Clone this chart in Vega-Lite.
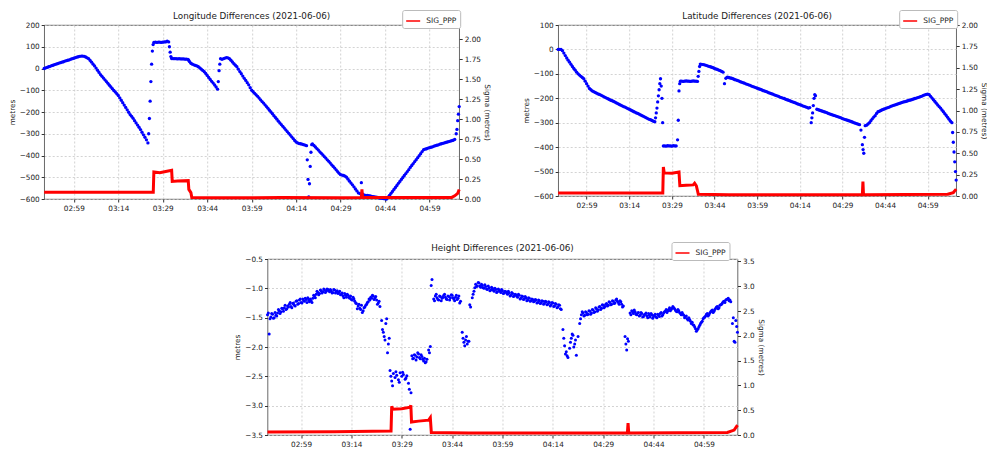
{
"$schema":"https://vega.github.io/schema/vega-lite/v6.json",
"background":"white",
"padding":{"left":7,"top":9,"right":1,"bottom":0},
"data":{"format":{"parse":{"t":"utc:'%H:%M:%S'"}},"values":[
{"t":"02:49:00","lo":0,"la":0,"h":-1.45},{"t":"02:49:30","lo":3,"la":0,"h":-1.78},{"t":"02:50:00","lo":5,"la":0,"h":-1.49},{"t":"02:50:30","lo":8,"la":-5,"h":-1.44},{"t":"02:51:00","lo":10,"la":-15,"h":-1.5},{"t":"02:51:30","lo":13,"la":-25,"h":-1.46},{"t":"02:52:00","lo":15,"la":-35,"h":-1.42},{"t":"02:52:30","lo":18,"la":-44,"h":-1.38},{"t":"02:53:00","lo":20,"la":-52,"h":-1.4},{"t":"02:53:30","lo":22,"la":-61,"h":-1.35},{"t":"02:54:00","lo":25,"la":-70,"h":-1.33},{"t":"02:54:30","lo":27,"la":-78,"h":-1.36},{"t":"02:55:00","lo":29,"la":-85,"h":-1.3},{"t":"02:55:30","lo":31,"la":-93,"h":-1.27},{"t":"02:56:00","lo":34,"la":-100,"h":-1.31},{"t":"02:56:30","lo":36,"la":-105,"h":-1.26},{"t":"02:57:00","lo":38,"la":-110,"h":-1.29},{"t":"02:57:30","lo":40,"la":-115,"h":-1.22},{"t":"02:58:00","lo":43,"la":-120,"h":-1.27},{"t":"02:58:30","lo":45,"la":-130,"h":-1.2},{"t":"02:59:00","lo":47,"la":-140,"h":-1.24},{"t":"02:59:30","lo":50,"la":-150,"h":-1.18},
{"t":"03:00:00","lo":52,"la":-160,"h":-1.22},{"t":"03:00:30","lo":54,"la":-165,"h":-1.19},{"t":"03:01:00","lo":56,"la":-170,"h":-1.16},{"t":"03:01:30","lo":57,"la":-173,"h":-1.23},{"t":"03:02:00","lo":57,"la":-176,"h":-1.21},{"t":"03:02:30","lo":56,"la":-179,"h":-1.17},{"t":"03:03:00","lo":53,"la":-182,"h":-1.13},{"t":"03:03:30","lo":49,"la":-184,"h":-1.1},{"t":"03:04:00","lo":45,"la":-187,"h":-1.07},{"t":"03:04:30","lo":37,"la":-190,"h":-1.09},{"t":"03:05:00","lo":29,"la":-193,"h":-1.04},{"t":"03:05:30","lo":20,"la":-196,"h":-1.06},{"t":"03:06:00","lo":12,"la":-199,"h":-1.03},{"t":"03:06:30","lo":2,"la":-202,"h":-1.05},{"t":"03:07:00","lo":-8,"la":-205,"h":-1.02},{"t":"03:07:30","lo":-18,"la":-208,"h":-1.06},{"t":"03:08:00","lo":-28,"la":-210,"h":-1.04},{"t":"03:08:30","lo":-36,"la":-213,"h":-1.07},{"t":"03:09:00","lo":-44,"la":-216,"h":-1.03},{"t":"03:09:30","lo":-52,"la":-219,"h":-1.06},{"t":"03:10:00","lo":-60,"la":-222,"h":-1.09},{"t":"03:10:30","lo":-68,"la":-225,"h":-1.05},{"t":"03:11:00","lo":-77,"la":-228,"h":-1.1},{"t":"03:11:30","lo":-85,"la":-231,"h":-1.13},{"t":"03:12:00","lo":-93,"la":-234,"h":-1.09},{"t":"03:12:30","lo":-101,"la":-236,"h":-1.15},{"t":"03:13:00","lo":-108,"la":-239,"h":-1.12},{"t":"03:13:30","lo":-116,"la":-242,"h":-1.17},{"t":"03:14:00","lo":-124,"la":-245,"h":-1.19},{"t":"03:14:30","lo":-135,"la":-248,"h":-1.15},{"t":"03:15:00","lo":-146,"la":-251,"h":-1.22},{"t":"03:15:30","lo":-157,"la":-254,"h":-1.26},{"t":"03:16:00","lo":-168,"la":-257,"h":-1.3},{"t":"03:16:30","lo":-179,"la":-260,"h":-1.34},{"t":"03:17:00","lo":-190,"la":-262,"h":-1.29},{"t":"03:17:30","lo":-201,"la":-265,"h":-1.38},{"t":"03:18:00","lo":-212,"la":-268,"h":-1.32},{"t":"03:18:30","lo":-220,"la":-271,"h":-1.27},{"t":"03:19:00","lo":-229,"la":-274,"h":-1.23},{"t":"03:19:30","lo":-240,"la":-277,"h":-1.2},{"t":"03:20:00","lo":-250,"la":-280,"h":-1.17},{"t":"03:20:30","lo":-260,"la":-283,"h":-1.13},{"t":"03:21:00","lo":-270,"la":-286,"h":-1.16},{"t":"03:21:30","lo":-281,"la":-288,"h":-1.2},{"t":"03:22:00","lo":-293,"la":-291,"h":-1.25},{"t":"03:22:30","lo":-305,"la":-294,"h":-1.31},{"t":"03:23:00","lo":-316,"la":-296,"h":-1.55},{"t":"03:23:15","la":-280,"h":-1.7},{"t":"03:23:30","lo":-328,"la":-260,"h":-1.75},{"t":"03:23:45","la":-240,"h":-1.82},{"t":"03:24:00","lo":-342,"la":-215,"h":-1.88},{"t":"03:24:15","lo":-300,"la":-190,"h":-1.6},{"t":"03:24:30","lo":-230,"la":-165,"h":-1.52},{"t":"03:24:45","lo":-150,"la":-140,"h":-2.1},{"t":"03:25:00","lo":-60,"la":-120,"h":-1.95},{"t":"03:25:15","lo":20,"la":-150,"h":-1.85},{"t":"03:25:30","lo":80,"la":-200,"h":-2.4},{"t":"03:25:45","lo":110,"la":-300,"h":-2.5},{"t":"03:26:00","lo":120,"la":-395,"h":-2.58},{"t":"03:26:15","h":-2.66},{"t":"03:26:30","lo":121,"la":-395,"h":-2.45},{"t":"03:27:00","lo":120,"la":-396,"h":-2.52},{"t":"03:27:15","h":-2.42},{"t":"03:27:30","lo":121,"la":-394,"h":-2.48},{"t":"03:28:00","lo":121,"la":-395,"h":-2.56},{"t":"03:28:15","h":-2.6},{"t":"03:28:30","lo":120,"la":-395,"h":-2.44},{"t":"03:29:00","lo":121,"la":-396,"h":-2.5},{"t":"03:29:15","h":-2.43},{"t":"03:29:30","lo":122,"la":-394,"h":-2.47},{"t":"03:30:00","lo":122,"la":-395,"h":-2.55},{"t":"03:30:15","h":-2.53},{"t":"03:30:30","lo":126,"la":-395,"h":-2.49},{"t":"03:31:00","lo":122,"la":-370,"h":-2.62},{"t":"03:31:15","lo":100,"la":-290,"h":-2.72},{"t":"03:31:30","lo":75,"la":-170,"h":-3.4},{"t":"03:31:45","lo":55,"la":-140,"h":-2.78},{"t":"03:32:00","lo":46,"la":-130,"h":-2.15},{"t":"03:32:15","h":-2.2},{"t":"03:32:30","lo":45,"la":-130,"h":-2.19},{"t":"03:33:00","lo":45,"la":-131,"h":-2.14},{"t":"03:33:30","lo":45,"la":-130,"h":-2.17},{"t":"03:34:00","lo":44,"la":-129,"h":-2.12},{"t":"03:34:30","lo":45,"la":-130,"h":-2.2},{"t":"03:35:00","lo":44,"la":-130,"h":-2.16},{"t":"03:35:30","lo":44,"la":-131,"h":-2.24},{"t":"03:36:00","lo":44,"la":-130,"h":-2.27},{"t":"03:36:30","lo":43,"la":-129,"h":-2.21},{"t":"03:37:00","lo":43,"la":-130,"h":-2.05},{"t":"03:37:15","h":-2.1},{"t":"03:37:30","lo":42,"la":-130,"h":-1.99},{"t":"03:37:45","lo":38,"h":-0.95},{"t":"03:38:00","lo":32,"la":-131,"h":-0.85},{"t":"03:38:15","la":-110},{"t":"03:38:30","lo":24,"la":-90,"h":-1.18},{"t":"03:38:45","la":-70},{"t":"03:39:00","lo":20,"la":-60,"h":-1.13},{"t":"03:39:30","lo":17,"la":-61,"h":-1.16},{"t":"03:40:00","lo":14,"la":-62,"h":-1.2},{"t":"03:40:30","lo":12,"la":-63,"h":-1.14},{"t":"03:41:00","lo":8,"la":-65,"h":-1.17},{"t":"03:41:30","lo":3,"la":-67,"h":-1.12},{"t":"03:42:00","lo":-3,"la":-69,"h":-1.15},{"t":"03:42:30","lo":-9,"la":-71,"h":-1.19},{"t":"03:43:00","lo":-15,"la":-73,"h":-1.14},{"t":"03:43:30","lo":-23,"la":-75,"h":-1.16},{"t":"03:44:00","lo":-32,"la":-78,"h":-1.12},{"t":"03:44:30","lo":-41,"la":-80,"h":-1.18},{"t":"03:45:00","lo":-50,"la":-82,"h":-1.15},{"t":"03:45:30","lo":-59,"la":-85,"h":-1.19},{"t":"03:46:00","lo":-67,"la":-87,"h":-1.13},{"t":"03:46:30","lo":-76,"la":-90,"h":-1.22},{"t":"03:47:00","lo":-85,"la":-93,"h":-1.75},{"t":"03:47:15","h":-1.85},{"t":"03:47:30","lo":-95,"la":-140,"h":-1.92},{"t":"03:47:45","lo":-60,"h":-1.98},{"t":"03:48:00","lo":-10,"la":-118,"h":-1.88},{"t":"03:48:15","lo":20,"h":-1.82},{"t":"03:48:30","lo":45,"la":-114,"h":-1.95},{"t":"03:48:45","h":-1.9},{"t":"03:49:00","lo":42,"la":-115,"h":-1.9},{"t":"03:49:15","h":-1.28},{"t":"03:49:30","lo":45,"la":-117,"h":-1.32},{"t":"03:50:00","lo":48,"la":-118,"h":-1.16},{"t":"03:50:30","lo":50,"la":-120,"h":-1.05},{"t":"03:51:00","lo":49,"la":-123,"h":-0.93},{"t":"03:51:30","lo":45,"la":-125,"h":-0.96},{"t":"03:52:00","lo":38,"la":-127,"h":-0.91},{"t":"03:52:30","lo":30,"la":-129,"h":-0.98},{"t":"03:53:00","lo":22,"la":-132,"h":-0.95},{"t":"03:53:30","lo":15,"la":-134,"h":-1.0},{"t":"03:54:00","lo":8,"la":-136,"h":-0.97},{"t":"03:54:30","lo":-3,"la":-138,"h":-1.02},{"t":"03:55:00","lo":-14,"la":-141,"h":-0.99},{"t":"03:55:30","lo":-24,"la":-143,"h":-1.03},{"t":"03:56:00","lo":-35,"la":-145,"h":-1.0},{"t":"03:56:30","lo":-45,"la":-147,"h":-1.05},{"t":"03:57:00","lo":-55,"la":-150,"h":-1.02},{"t":"03:57:30","lo":-65,"la":-152,"h":-1.06},{"t":"03:58:00","lo":-75,"la":-154,"h":-1.03},{"t":"03:58:30","lo":-88,"la":-156,"h":-1.07},{"t":"03:59:00","lo":-100,"la":-159,"h":-1.04},{"t":"03:59:30","lo":-107,"la":-161,"h":-1.08},
{"t":"04:00:00","lo":-114,"la":-163,"h":-1.06},{"t":"04:00:30","lo":-121,"la":-165,"h":-1.1},{"t":"04:01:00","lo":-128,"la":-168,"h":-1.08},{"t":"04:01:30","lo":-136,"la":-170,"h":-1.12},{"t":"04:02:00","lo":-144,"la":-172,"h":-1.09},{"t":"04:02:30","lo":-152,"la":-174,"h":-1.13},{"t":"04:03:00","lo":-159,"la":-177,"h":-1.11},{"t":"04:03:30","lo":-167,"la":-179,"h":-1.15},{"t":"04:04:00","lo":-175,"la":-181,"h":-1.12},{"t":"04:04:30","lo":-183,"la":-183,"h":-1.17},{"t":"04:05:00","lo":-192,"la":-186,"h":-1.14},{"t":"04:05:30","lo":-200,"la":-188,"h":-1.18},{"t":"04:06:00","lo":-208,"la":-190,"h":-1.16},{"t":"04:06:30","lo":-217,"la":-192,"h":-1.2},{"t":"04:07:00","lo":-225,"la":-195,"h":-1.17},{"t":"04:07:30","lo":-233,"la":-197,"h":-1.21},{"t":"04:08:00","lo":-242,"la":-199,"h":-1.19},{"t":"04:08:30","lo":-250,"la":-201,"h":-1.22},{"t":"04:09:00","lo":-258,"la":-204,"h":-1.2},{"t":"04:09:30","lo":-266,"la":-206,"h":-1.24},{"t":"04:10:00","lo":-274,"la":-208,"h":-1.21},{"t":"04:10:30","lo":-282,"la":-210,"h":-1.25},{"t":"04:11:00","lo":-290,"la":-213,"h":-1.22},{"t":"04:11:30","lo":-298,"la":-215,"h":-1.26},{"t":"04:12:00","lo":-306,"la":-217,"h":-1.23},{"t":"04:12:30","lo":-314,"la":-219,"h":-1.27},{"t":"04:13:00","lo":-322,"la":-222,"h":-1.24},{"t":"04:13:30","lo":-331,"la":-224,"h":-1.28},{"t":"04:14:00","lo":-338,"la":-226,"h":-1.25},{"t":"04:14:30","lo":-342,"la":-228,"h":-1.3},{"t":"04:15:00","lo":-345,"la":-231,"h":-1.27},{"t":"04:15:30","lo":-346,"la":-233,"h":-1.32},{"t":"04:16:00","lo":-348,"la":-235,"h":-1.29},{"t":"04:16:30","lo":-350,"la":-237,"h":-1.36},{"t":"04:17:00","lo":-352,"la":-240,"h":-1.7},{"t":"04:17:15","h":-1.85},{"t":"04:17:30","lo":-355,"la":-238,"h":-1.98},{"t":"04:17:45","lo":-420,"h":-2.12},{"t":"04:18:00","lo":-510,"la":-300,"h":-2.08},{"t":"04:18:15","lo":-590,"la":-280,"h":-2.15},{"t":"04:18:30","lo":-530,"la":-260,"h":-2.18},{"t":"04:18:45","lo":-450,"la":-230},{"t":"04:19:00","lo":-385,"la":-200,"h":-2.02},{"t":"04:19:15","lo":-350,"la":-185,"h":-1.92},{"t":"04:19:30","lo":-347,"la":-190,"h":-1.85},{"t":"04:19:45","h":-1.78},{"t":"04:20:00","lo":-354,"la":-245,"h":-1.8},{"t":"04:20:15","h":-2.0},{"t":"04:20:30","lo":-361,"la":-247,"h":-1.95},{"t":"04:20:45","h":-1.88},{"t":"04:21:00","lo":-368,"la":-249,"h":-2.14},{"t":"04:21:30","lo":-375,"la":-251,"h":-1.82},{"t":"04:22:00","lo":-383,"la":-253,"h":-1.6},{"t":"04:22:30","lo":-390,"la":-255,"h":-1.45},{"t":"04:23:00","lo":-397,"la":-257,"h":-1.42},{"t":"04:23:30","lo":-405,"la":-259,"h":-1.46},{"t":"04:24:00","lo":-412,"la":-262,"h":-1.41},{"t":"04:24:30","lo":-420,"la":-264,"h":-1.44},{"t":"04:25:00","lo":-427,"la":-266,"h":-1.39},{"t":"04:25:30","lo":-435,"la":-268,"h":-1.42},{"t":"04:26:00","lo":-443,"la":-270,"h":-1.37},{"t":"04:26:30","lo":-450,"la":-272,"h":-1.4},{"t":"04:27:00","lo":-458,"la":-274,"h":-1.35},{"t":"04:27:30","lo":-466,"la":-276,"h":-1.37},{"t":"04:28:00","lo":-474,"la":-278,"h":-1.31},{"t":"04:28:30","lo":-482,"la":-280,"h":-1.34},{"t":"04:29:00","lo":-488,"la":-283,"h":-1.29},{"t":"04:29:30","lo":-490,"la":-285,"h":-1.31},{"t":"04:30:00","lo":-492,"la":-287,"h":-1.26},{"t":"04:30:30","lo":-495,"la":-289,"h":-1.29},{"t":"04:31:00","lo":-500,"la":-291,"h":-1.24},{"t":"04:31:30","lo":-509,"la":-293,"h":-1.27},{"t":"04:32:00","lo":-518,"la":-295,"h":-1.22},{"t":"04:32:30","lo":-527,"la":-297,"h":-1.25},{"t":"04:33:00","lo":-535,"la":-300,"h":-1.18},{"t":"04:33:30","lo":-544,"la":-302,"h":-1.24},{"t":"04:34:00","lo":-554,"la":-304,"h":-1.21},{"t":"04:34:30","lo":-563,"la":-306,"h":-1.27},{"t":"04:35:00","lo":-572,"la":-308,"h":-1.3},{"t":"04:35:30","lo":-575,"la":-330,"h":-1.82},{"t":"04:35:45","h":-1.95},{"t":"04:36:00","lo":-525,"la":-390,"h":-2.05},{"t":"04:36:15","la":-410,"h":-1.86},{"t":"04:36:30","lo":-578,"la":-425,"h":-1.9},{"t":"04:36:45","la":-360},{"t":"04:37:00","lo":-582,"la":-312,"h":-1.42},{"t":"04:37:30","lo":-583,"la":-310,"h":-1.38},{"t":"04:38:00","lo":-584,"la":-305,"h":-1.43},{"t":"04:38:30","lo":-585,"la":-300,"h":-1.4},{"t":"04:39:00","lo":-586,"la":-292,"h":-1.45},{"t":"04:39:30","lo":-588,"la":-284,"h":-1.41},{"t":"04:40:00","lo":-589,"la":-277,"h":-1.46},{"t":"04:40:30","lo":-590,"la":-271,"h":-1.43},{"t":"04:41:00","lo":-592,"la":-262,"h":-1.48},{"t":"04:41:30","lo":-593,"la":-255,"h":-1.44},{"t":"04:42:00","lo":-595,"la":-253,"h":-1.47},{"t":"04:42:30","lo":-596,"la":-250,"h":-1.43},{"t":"04:43:00","lo":-597,"la":-247,"h":-1.49},{"t":"04:43:30","lo":-598,"la":-245,"h":-1.45},{"t":"04:44:00","lo":-599,"la":-242,"h":-1.48},{"t":"04:44:30","lo":-600,"la":-240,"h":-1.44},{"t":"04:45:00","lo":-592,"la":-238,"h":-1.5},{"t":"04:45:30","lo":-583,"la":-236,"h":-1.46},{"t":"04:46:00","lo":-574,"la":-233,"h":-1.43},{"t":"04:46:30","lo":-565,"la":-231,"h":-1.47},{"t":"04:47:00","lo":-556,"la":-229,"h":-1.42},{"t":"04:47:30","lo":-547,"la":-227,"h":-1.39},{"t":"04:48:00","lo":-538,"la":-225,"h":-1.41},{"t":"04:48:30","lo":-528,"la":-223,"h":-1.36},{"t":"04:49:00","lo":-519,"la":-221,"h":-1.38},{"t":"04:49:30","lo":-510,"la":-219,"h":-1.34},{"t":"04:50:00","lo":-501,"la":-217,"h":-1.33},{"t":"04:50:30","lo":-492,"la":-215,"h":-1.37},{"t":"04:51:00","lo":-483,"la":-214,"h":-1.4},{"t":"04:51:30","lo":-474,"la":-212,"h":-1.38},{"t":"04:52:00","lo":-465,"la":-210,"h":-1.43},{"t":"04:52:30","lo":-455,"la":-208,"h":-1.41},{"t":"04:53:00","lo":-446,"la":-207,"h":-1.46},{"t":"04:53:30","lo":-437,"la":-205,"h":-1.48},{"t":"04:54:00","lo":-428,"la":-203,"h":-1.52},{"t":"04:54:30","lo":-419,"la":-201,"h":-1.5},{"t":"04:55:00","lo":-410,"la":-199,"h":-1.56},{"t":"04:55:30","lo":-401,"la":-197,"h":-1.58},{"t":"04:56:00","lo":-392,"la":-195,"h":-1.63},{"t":"04:56:30","lo":-382,"la":-193,"h":-1.69},{"t":"04:57:00","lo":-373,"la":-191,"h":-1.71},{"t":"04:57:30","lo":-371,"la":-188,"h":-1.66},{"t":"04:58:00","lo":-369,"la":-186,"h":-1.6},{"t":"04:58:30","lo":-366,"la":-184,"h":-1.56},{"t":"04:59:00","lo":-364,"la":-183,"h":-1.5},{"t":"04:59:30","lo":-362,"la":-185,"h":-1.47},
{"t":"05:00:00","lo":-360,"la":-192,"h":-1.43},{"t":"05:00:30","lo":-357,"la":-199,"h":-1.45},{"t":"05:01:00","lo":-355,"la":-206,"h":-1.4},{"t":"05:01:30","lo":-353,"la":-213,"h":-1.37},{"t":"05:02:00","lo":-351,"la":-220,"h":-1.39},{"t":"05:02:30","lo":-348,"la":-227,"h":-1.34},{"t":"05:03:00","lo":-346,"la":-234,"h":-1.31},{"t":"05:03:30","lo":-344,"la":-240,"h":-1.33},{"t":"05:04:00","lo":-342,"la":-248,"h":-1.28},{"t":"05:04:30","lo":-340,"la":-255,"h":-1.25},{"t":"05:05:00","lo":-338,"la":-263,"h":-1.22},{"t":"05:05:30","lo":-336,"la":-270,"h":-1.2},{"t":"05:06:00","lo":-334,"la":-278,"h":-1.18},{"t":"05:06:30","lo":-332,"la":-286,"h":-1.21},{"t":"05:07:00","lo":-330,"la":-294,"h":-1.23},{"t":"05:07:30","lo":-326,"la":-300,"h":-1.6},{"t":"05:07:45","la":-340,"h":-1.5},{"t":"05:08:00","lo":-300,"la":-380,"h":-1.9},{"t":"05:08:15","lo":-280,"la":-420,"h":-1.92},{"t":"05:08:30","lo":-240,"la":-460,"h":-1.55},{"t":"05:08:45","lo":-210,"la":-500,"h":-1.65},{"t":"05:09:00","lo":-175,"la":-535,"h":-1.75},
{"t":"02:49:15","h":-1.42},{"t":"02:49:45","h":-1.52},{"t":"02:50:15","h":-1.43},{"t":"02:50:45","h":-1.51},{"t":"02:51:15","h":-1.41},{"t":"02:51:45","h":-1.47},{"t":"02:52:15","h":-1.36},{"t":"02:52:45","h":-1.43},{"t":"02:53:15","h":-1.34},{"t":"02:53:45","h":-1.39},{"t":"02:54:15","h":-1.29},{"t":"02:54:45","h":-1.35},{"t":"02:55:15","h":-1.32},{"t":"02:55:45","h":-1.24},{"t":"02:56:15","h":-1.33},{"t":"02:56:45","h":-1.25},{"t":"02:57:15","h":-1.3},{"t":"02:57:45","h":-1.21},{"t":"02:58:15","h":-1.26},{"t":"02:58:45","h":-1.18},{"t":"02:59:15","h":-1.25},{"t":"02:59:45","h":-1.21},{"t":"03:00:15","h":-1.17},{"t":"03:00:45","h":-1.24},{"t":"03:01:15","h":-1.2},{"t":"03:01:45","h":-1.18},{"t":"03:02:15","h":-1.24},{"t":"03:02:45","h":-1.12},{"t":"03:03:15","h":-1.16},{"t":"03:03:45","h":-1.05},{"t":"03:04:15","h":-1.11},{"t":"03:04:45","h":-1.03},{"t":"03:05:15","h":-1.08},{"t":"03:05:45","h":-1.01},{"t":"03:06:15","h":-1.07},{"t":"03:06:45","h":-1.01},{"t":"03:07:15","h":-1.04},{"t":"03:07:45","h":-1.02},{"t":"03:08:15","h":-1.08},{"t":"03:08:45","h":-1.02},{"t":"03:09:15","h":-1.08},{"t":"03:09:45","h":-1.04},{"t":"03:10:15","h":-1.07},{"t":"03:10:45","h":-1.11},{"t":"03:11:15","h":-1.08},{"t":"03:11:45","h":-1.16},{"t":"03:12:15","h":-1.12},{"t":"03:12:45","h":-1.1},{"t":"03:13:15","h":-1.15},{"t":"03:13:45","h":-1.13},{"t":"03:14:15","h":-1.2},{"t":"03:14:45","h":-1.18},{"t":"03:15:15","h":-1.25},{"t":"03:15:45","h":-1.35},{"t":"03:16:15","h":-1.27},{"t":"03:16:45","h":-1.36},{"t":"03:17:15","h":-1.41},{"t":"03:17:45","h":-1.33},{"t":"03:18:15","h":-1.29},{"t":"03:18:45","h":-1.24},{"t":"03:19:15","h":-1.18},{"t":"03:19:45","h":-1.15},{"t":"03:20:15","h":-1.12},{"t":"03:20:45","h":-1.19},{"t":"03:21:15","h":-1.14},{"t":"03:21:45","h":-1.27},{"t":"03:22:15","h":-1.22},
{"t":"03:32:45","h":-2.13},{"t":"03:33:15","h":-2.22},{"t":"03:33:45","h":-2.1},{"t":"03:34:15","h":-2.18},{"t":"03:34:45","h":-2.13},{"t":"03:35:15","h":-2.21},{"t":"03:35:45","h":-2.19},{"t":"03:36:15","h":-2.25},
{"t":"03:38:45","h":-1.21},{"t":"03:39:15","h":-1.1},{"t":"03:39:45","h":-1.19},{"t":"03:40:15","h":-1.13},{"t":"03:40:45","h":-1.21},{"t":"03:41:15","h":-1.15},{"t":"03:41:45","h":-1.1},{"t":"03:42:15","h":-1.18},{"t":"03:42:45","h":-1.13},{"t":"03:43:15","h":-1.2},{"t":"03:43:45","h":-1.11},{"t":"03:44:15","h":-1.16},{"t":"03:44:45","h":-1.21},{"t":"03:45:15","h":-1.12},{"t":"03:45:45","h":-1.17},{"t":"03:46:15","h":-1.25},
{"t":"03:50:15","h":-1.1},{"t":"03:50:45","h":-0.99},{"t":"03:51:15","h":-0.97},{"t":"03:51:45","h":-0.9},{"t":"03:52:15","h":-0.96},{"t":"03:52:45","h":-0.93},{"t":"03:53:15","h":-0.99},{"t":"03:53:45","h":-0.94},{"t":"03:54:15","h":-1.01},{"t":"03:54:45","h":-0.96},{"t":"03:55:15","h":-1.04},{"t":"03:55:45","h":-0.98},{"t":"03:56:15","h":-1.03},{"t":"03:56:45","h":-1.0},{"t":"03:57:15","h":-1.07},{"t":"03:57:45","h":-1.01},{"t":"03:58:15","h":-1.05},{"t":"03:58:45","h":-1.02},{"t":"03:59:15","h":-1.09},{"t":"03:59:45","h":-1.05},{"t":"04:00:15","h":-1.08},{"t":"04:00:45","h":-1.05},{"t":"04:01:15","h":-1.13},{"t":"04:01:45","h":-1.07},{"t":"04:02:15","h":-1.14},{"t":"04:02:45","h":-1.1},{"t":"04:03:15","h":-1.13},{"t":"04:03:45","h":-1.1},{"t":"04:04:15","h":-1.18},{"t":"04:04:45","h":-1.13},{"t":"04:05:15","h":-1.19},{"t":"04:05:45","h":-1.14},{"t":"04:06:15","h":-1.21},{"t":"04:06:45","h":-1.16},{"t":"04:07:15","h":-1.22},{"t":"04:07:45","h":-1.18},{"t":"04:08:15","h":-1.23},{"t":"04:08:45","h":-1.19},{"t":"04:09:15","h":-1.25},{"t":"04:09:45","h":-1.2},{"t":"04:10:15","h":-1.26},{"t":"04:10:45","h":-1.21},{"t":"04:11:15","h":-1.27},{"t":"04:11:45","h":-1.22},{"t":"04:12:15","h":-1.28},{"t":"04:12:45","h":-1.23},{"t":"04:13:15","h":-1.3},{"t":"04:13:45","h":-1.24},{"t":"04:14:15","h":-1.31},{"t":"04:14:45","h":-1.26},{"t":"04:15:15","h":-1.33},{"t":"04:15:45","h":-1.28},{"t":"04:16:15","h":-1.35},
{"t":"04:22:15","h":-1.52},{"t":"04:22:45","h":-1.4},{"t":"04:23:15","h":-1.47},{"t":"04:23:45","h":-1.4},{"t":"04:24:15","h":-1.45},{"t":"04:24:45","h":-1.38},{"t":"04:25:15","h":-1.44},{"t":"04:25:45","h":-1.36},{"t":"04:26:15","h":-1.41},{"t":"04:26:45","h":-1.33},{"t":"04:27:15","h":-1.39},{"t":"04:27:45","h":-1.32},{"t":"04:28:15","h":-1.36},{"t":"04:28:45","h":-1.28},{"t":"04:29:15","h":-1.33},{"t":"04:29:45","h":-1.27},{"t":"04:30:15","h":-1.3},{"t":"04:30:45","h":-1.23},{"t":"04:31:15","h":-1.28},{"t":"04:31:45","h":-1.21},{"t":"04:32:15","h":-1.26},{"t":"04:32:45","h":-1.2},{"t":"04:33:15","h":-1.22},{"t":"04:33:45","h":-1.27},{"t":"04:34:15","h":-1.23},{"t":"04:34:45","h":-1.32},
{"t":"04:37:15","h":-1.45},{"t":"04:37:45","h":-1.4},{"t":"04:38:15","h":-1.37},{"t":"04:38:45","h":-1.44},{"t":"04:39:15","h":-1.42},{"t":"04:39:45","h":-1.47},{"t":"04:40:15","h":-1.41},{"t":"04:40:45","h":-1.49},{"t":"04:41:15","h":-1.45},{"t":"04:41:45","h":-1.42},{"t":"04:42:15","h":-1.5},{"t":"04:42:45","h":-1.46},{"t":"04:43:15","h":-1.43},{"t":"04:43:45","h":-1.51},{"t":"04:44:15","h":-1.46},{"t":"04:44:45","h":-1.49},{"t":"04:45:15","h":-1.44},{"t":"04:45:45","h":-1.48},{"t":"04:46:15","h":-1.41},{"t":"04:46:45","h":-1.45},{"t":"04:47:15","h":-1.4},{"t":"04:47:45","h":-1.36},{"t":"04:48:15","h":-1.38},{"t":"04:48:45","h":-1.33},{"t":"04:49:15","h":-1.36},{"t":"04:49:45","h":-1.31},{"t":"04:50:15","h":-1.35},{"t":"04:50:45","h":-1.39},{"t":"04:51:15","h":-1.36},{"t":"04:51:45","h":-1.41},{"t":"04:52:15","h":-1.45},{"t":"04:52:45","h":-1.44},{"t":"04:53:15","h":-1.5},{"t":"04:53:45","h":-1.47},{"t":"04:54:15","h":-1.54},{"t":"04:54:45","h":-1.53},{"t":"04:55:15","h":-1.6},{"t":"04:55:45","h":-1.62},{"t":"04:56:15","h":-1.66},{"t":"04:56:45","h":-1.73},{"t":"04:57:15","h":-1.69},{"t":"04:57:45","h":-1.63},{"t":"04:58:15","h":-1.58},{"t":"04:58:45","h":-1.52},{"t":"04:59:15","h":-1.49},{"t":"04:59:45","h":-1.44},{"t":"05:00:15","h":-1.47},{"t":"05:00:45","h":-1.42},{"t":"05:01:15","h":-1.38},{"t":"05:01:45","h":-1.41},{"t":"05:02:15","h":-1.36},{"t":"05:02:45","h":-1.32},{"t":"05:03:15","h":-1.35},{"t":"05:03:45","h":-1.29},{"t":"05:04:15","h":-1.27},{"t":"05:04:45","h":-1.23},{"t":"05:05:15","h":-1.24},{"t":"05:05:45","h":-1.19},{"t":"05:06:15","h":-1.17},{"t":"05:06:45","h":-1.2}
]},
"config":{
"font":"DejaVu Sans",
"view":{"stroke":"#444","strokeWidth":0.8},
"axis":{"labelFont":"DejaVu Sans","titleFont":"DejaVu Sans","labelFontSize":7.3,"titleFontSize":7.3,"titleFontWeight":"normal","labelColor":"#222","titleColor":"#222","tickColor":"#333","tickSize":3,"labelPadding":2,"titlePadding":3,"domain":false,"gridColor":"#c8c8c8","gridDash":[2,2],"gridWidth":0.8},
"title":{"font":"DejaVu Sans","fontSize":8.8,"fontWeight":"normal","color":"#222","offset":4,"frame":"group","dy":15},
"legend":{"orient":"none","labelFont":"DejaVu Sans","labelFontSize":7.5,"labelColor":"#222","strokeColor":"#bbb","fillColor":"white","padding":3,"cornerRadius":2,"symbolType":"stroke","symbolSize":196,"symbolStrokeWidth":1.5,"labelOffset":5}
},
"resolve":{"scale":{"color":"independent"},"legend":{"color":"independent"}},
"spacing":29,
"center":true,
"vconcat":[
{"hconcat":[
{"width":415,"height":174,"title":"Longitude Differences (2021-06-06)",
"encoding":{"x":{"field":"t","type":"temporal","title":null,"scale":{"type":"utc","nice":false,"domain":[{"year":1900,"month":1,"date":1,"hours":2,"minutes":49,"utc":true},{"year":1900,"month":1,"date":1,"hours":5,"minutes":9,"utc":true}]},"axis":{"format":"%H:%M","grid":true,"values":[{"year":1900,"month":1,"date":1,"hours":2,"minutes":59,"utc":true},{"year":1900,"month":1,"date":1,"hours":3,"minutes":14,"utc":true},{"year":1900,"month":1,"date":1,"hours":3,"minutes":29,"utc":true},{"year":1900,"month":1,"date":1,"hours":3,"minutes":44,"utc":true},{"year":1900,"month":1,"date":1,"hours":3,"minutes":59,"utc":true},{"year":1900,"month":1,"date":1,"hours":4,"minutes":14,"utc":true},{"year":1900,"month":1,"date":1,"hours":4,"minutes":29,"utc":true},{"year":1900,"month":1,"date":1,"hours":4,"minutes":44,"utc":true},{"year":1900,"month":1,"date":1,"hours":4,"minutes":59,"utc":true}]}}},
"layer":[
{"mark":{"type":"point","filled":true,"size":11,"color":"blue","opacity":1,"strokeWidth":0},
"encoding":{"y":{"field":"lo","type":"quantitative","title":"metres","scale":{"domain":[-600,200],"nice":false,"zero":false},"axis":{"grid":true,"values":[-600,-500,-400,-300,-200,-100,0,100,200]}}}},
{"data":{"format":{"parse":{"t":"utc:'%H:%M:%S'"}},"values":[{"t":"02:49:00","s":0.085},{"t":"03:25:48","s":0.085},{"t":"03:26:00","s":0.34},{"t":"03:28:00","s":0.33},{"t":"03:30:00","s":0.345},{"t":"03:32:00","s":0.36},{"t":"03:32:12","s":0.22},{"t":"03:34:00","s":0.225},{"t":"03:37:36","s":0.23},{"t":"03:37:48","s":0.12},{"t":"03:38:30","s":0.08},{"t":"03:38:48","s":0.02},{"t":"03:49:00","s":0.015},{"t":"04:09:00","s":0.018},{"t":"04:29:00","s":0.016},{"t":"04:36:00","s":0.02},{"t":"04:36:12","s":0.12},{"t":"04:36:24","s":0.02},{"t":"04:49:00","s":0.018},{"t":"05:06:30","s":0.02},{"t":"05:07:30","s":0.04},{"t":"05:08:30","s":0.07},{"t":"05:09:00","s":0.12}]},
"mark":{"type":"line","strokeWidth":3},
"encoding":{"y":{"field":"s","type":"quantitative","title":"Sigma (metres)","scale":{"domain":[0,2.18],"nice":false},"axis":{"orient":"right","grid":false,"titlePadding":2,"format":".2f","values":[0,0.25,0.5,0.75,1,1.25,1.5,1.75,2]}},
"color":{"datum":"SIG_PPP","type":"nominal","scale":{"range":["red"]},"legend":{"title":null,"legendX":358,"legendY":-15}}}}
],
"resolve":{"scale":{"y":"independent"}}},
{"width":398,"height":171,"title":"Latitude Differences (2021-06-06)",
"encoding":{"x":{"field":"t","type":"temporal","title":null,"scale":{"type":"utc","nice":false,"domain":[{"year":1900,"month":1,"date":1,"hours":2,"minutes":49,"utc":true},{"year":1900,"month":1,"date":1,"hours":5,"minutes":9,"utc":true}]},"axis":{"format":"%H:%M","grid":true,"values":[{"year":1900,"month":1,"date":1,"hours":2,"minutes":59,"utc":true},{"year":1900,"month":1,"date":1,"hours":3,"minutes":14,"utc":true},{"year":1900,"month":1,"date":1,"hours":3,"minutes":29,"utc":true},{"year":1900,"month":1,"date":1,"hours":3,"minutes":44,"utc":true},{"year":1900,"month":1,"date":1,"hours":3,"minutes":59,"utc":true},{"year":1900,"month":1,"date":1,"hours":4,"minutes":14,"utc":true},{"year":1900,"month":1,"date":1,"hours":4,"minutes":29,"utc":true},{"year":1900,"month":1,"date":1,"hours":4,"minutes":44,"utc":true},{"year":1900,"month":1,"date":1,"hours":4,"minutes":59,"utc":true}]}}},
"layer":[
{"mark":{"type":"point","filled":true,"size":11,"color":"blue","opacity":1,"strokeWidth":0},
"encoding":{"y":{"field":"la","type":"quantitative","title":"metres","scale":{"domain":[-600,100],"nice":false,"zero":false},"axis":{"grid":true,"values":[-600,-500,-400,-300,-200,-100,0,100]}}}},
{"data":{"format":{"parse":{"t":"utc:'%H:%M:%S'"}},"values":[{"t":"02:49:00","s":0.035},{"t":"03:25:48","s":0.035},{"t":"03:26:00","s":0.34},{"t":"03:26:18","s":0.27},{"t":"03:29:00","s":0.265},{"t":"03:31:30","s":0.28},{"t":"03:31:48","s":0.12},{"t":"03:34:00","s":0.125},{"t":"03:36:30","s":0.13},{"t":"03:37:00","s":0.15},{"t":"03:37:36","s":0.12},{"t":"03:38:18","s":0.02},{"t":"03:49:00","s":0.015},{"t":"04:36:00","s":0.015},{"t":"04:36:12","s":0.17},{"t":"04:36:24","s":0.015},{"t":"05:06:00","s":0.02},{"t":"05:08:00","s":0.04},{"t":"05:09:00","s":0.08}]},
"mark":{"type":"line","strokeWidth":3},
"encoding":{"y":{"field":"s","type":"quantitative","title":"Sigma (metres)","scale":{"domain":[0,2],"nice":false},"axis":{"orient":"right","grid":false,"titlePadding":2,"format":".2f","values":[0,0.25,0.5,0.75,1,1.25,1.5,1.75,2]}},
"color":{"datum":"SIG_PPP","type":"nominal","scale":{"range":["red"]},"legend":{"title":null,"legendX":341,"legendY":-15}}}}
],
"resolve":{"scale":{"y":"independent"}}}
],"spacing":30,"resolve":{"scale":{"color":"independent"},"legend":{"color":"independent"}}},
{"width":470,"height":176,"title":"Height Differences (2021-06-06)",
"encoding":{"x":{"field":"t","type":"temporal","title":null,"scale":{"type":"utc","nice":false,"domain":[{"year":1900,"month":1,"date":1,"hours":2,"minutes":49,"utc":true},{"year":1900,"month":1,"date":1,"hours":5,"minutes":9,"utc":true}]},"axis":{"format":"%H:%M","grid":true,"values":[{"year":1900,"month":1,"date":1,"hours":2,"minutes":59,"utc":true},{"year":1900,"month":1,"date":1,"hours":3,"minutes":14,"utc":true},{"year":1900,"month":1,"date":1,"hours":3,"minutes":29,"utc":true},{"year":1900,"month":1,"date":1,"hours":3,"minutes":44,"utc":true},{"year":1900,"month":1,"date":1,"hours":3,"minutes":59,"utc":true},{"year":1900,"month":1,"date":1,"hours":4,"minutes":14,"utc":true},{"year":1900,"month":1,"date":1,"hours":4,"minutes":29,"utc":true},{"year":1900,"month":1,"date":1,"hours":4,"minutes":44,"utc":true},{"year":1900,"month":1,"date":1,"hours":4,"minutes":59,"utc":true}]}}},
"layer":[
{"mark":{"type":"point","filled":true,"size":9,"color":"blue","opacity":1,"strokeWidth":0},
"encoding":{"y":{"field":"h","type":"quantitative","title":"metres","scale":{"domain":[-3.5,-0.5],"nice":false,"zero":false},"axis":{"grid":true,"format":".1f","values":[-3.5,-3,-2.5,-2,-1.5,-1,-0.5]}}}},
{"data":{"format":{"parse":{"t":"utc:'%H:%M:%S'"}},"values":[{"t":"02:49:00","s":0.06},{"t":"03:09:00","s":0.065},{"t":"03:25:48","s":0.08},{"t":"03:26:00","s":0.58},{"t":"03:26:18","s":0.52},{"t":"03:29:00","s":0.53},{"t":"03:31:30","s":0.56},{"t":"03:31:42","s":0.6},{"t":"03:31:54","s":0.26},{"t":"03:34:00","s":0.28},{"t":"03:37:00","s":0.3},{"t":"03:37:30","s":0.35},{"t":"03:37:48","s":0.05},{"t":"03:49:00","s":0.04},{"t":"04:36:12","s":0.04},{"t":"04:36:24","s":0.24},{"t":"04:36:36","s":0.04},{"t":"05:06:00","s":0.05},{"t":"05:08:00","s":0.1},{"t":"05:09:00","s":0.2}]},
"mark":{"type":"line","strokeWidth":3},
"encoding":{"y":{"field":"s","type":"quantitative","title":"Sigma (metres)","scale":{"domain":[0,3.55],"nice":false},"axis":{"orient":"right","grid":false,"titlePadding":2,"format":".1f","values":[0,0.5,1,1.5,2,2.5,3,3.5]}},
"color":{"datum":"SIG_PPP","type":"nominal","scale":{"range":["red"]},"legend":{"title":null,"legendX":404,"legendY":-17}}}}
],
"resolve":{"scale":{"y":"independent"}}}
]
}
